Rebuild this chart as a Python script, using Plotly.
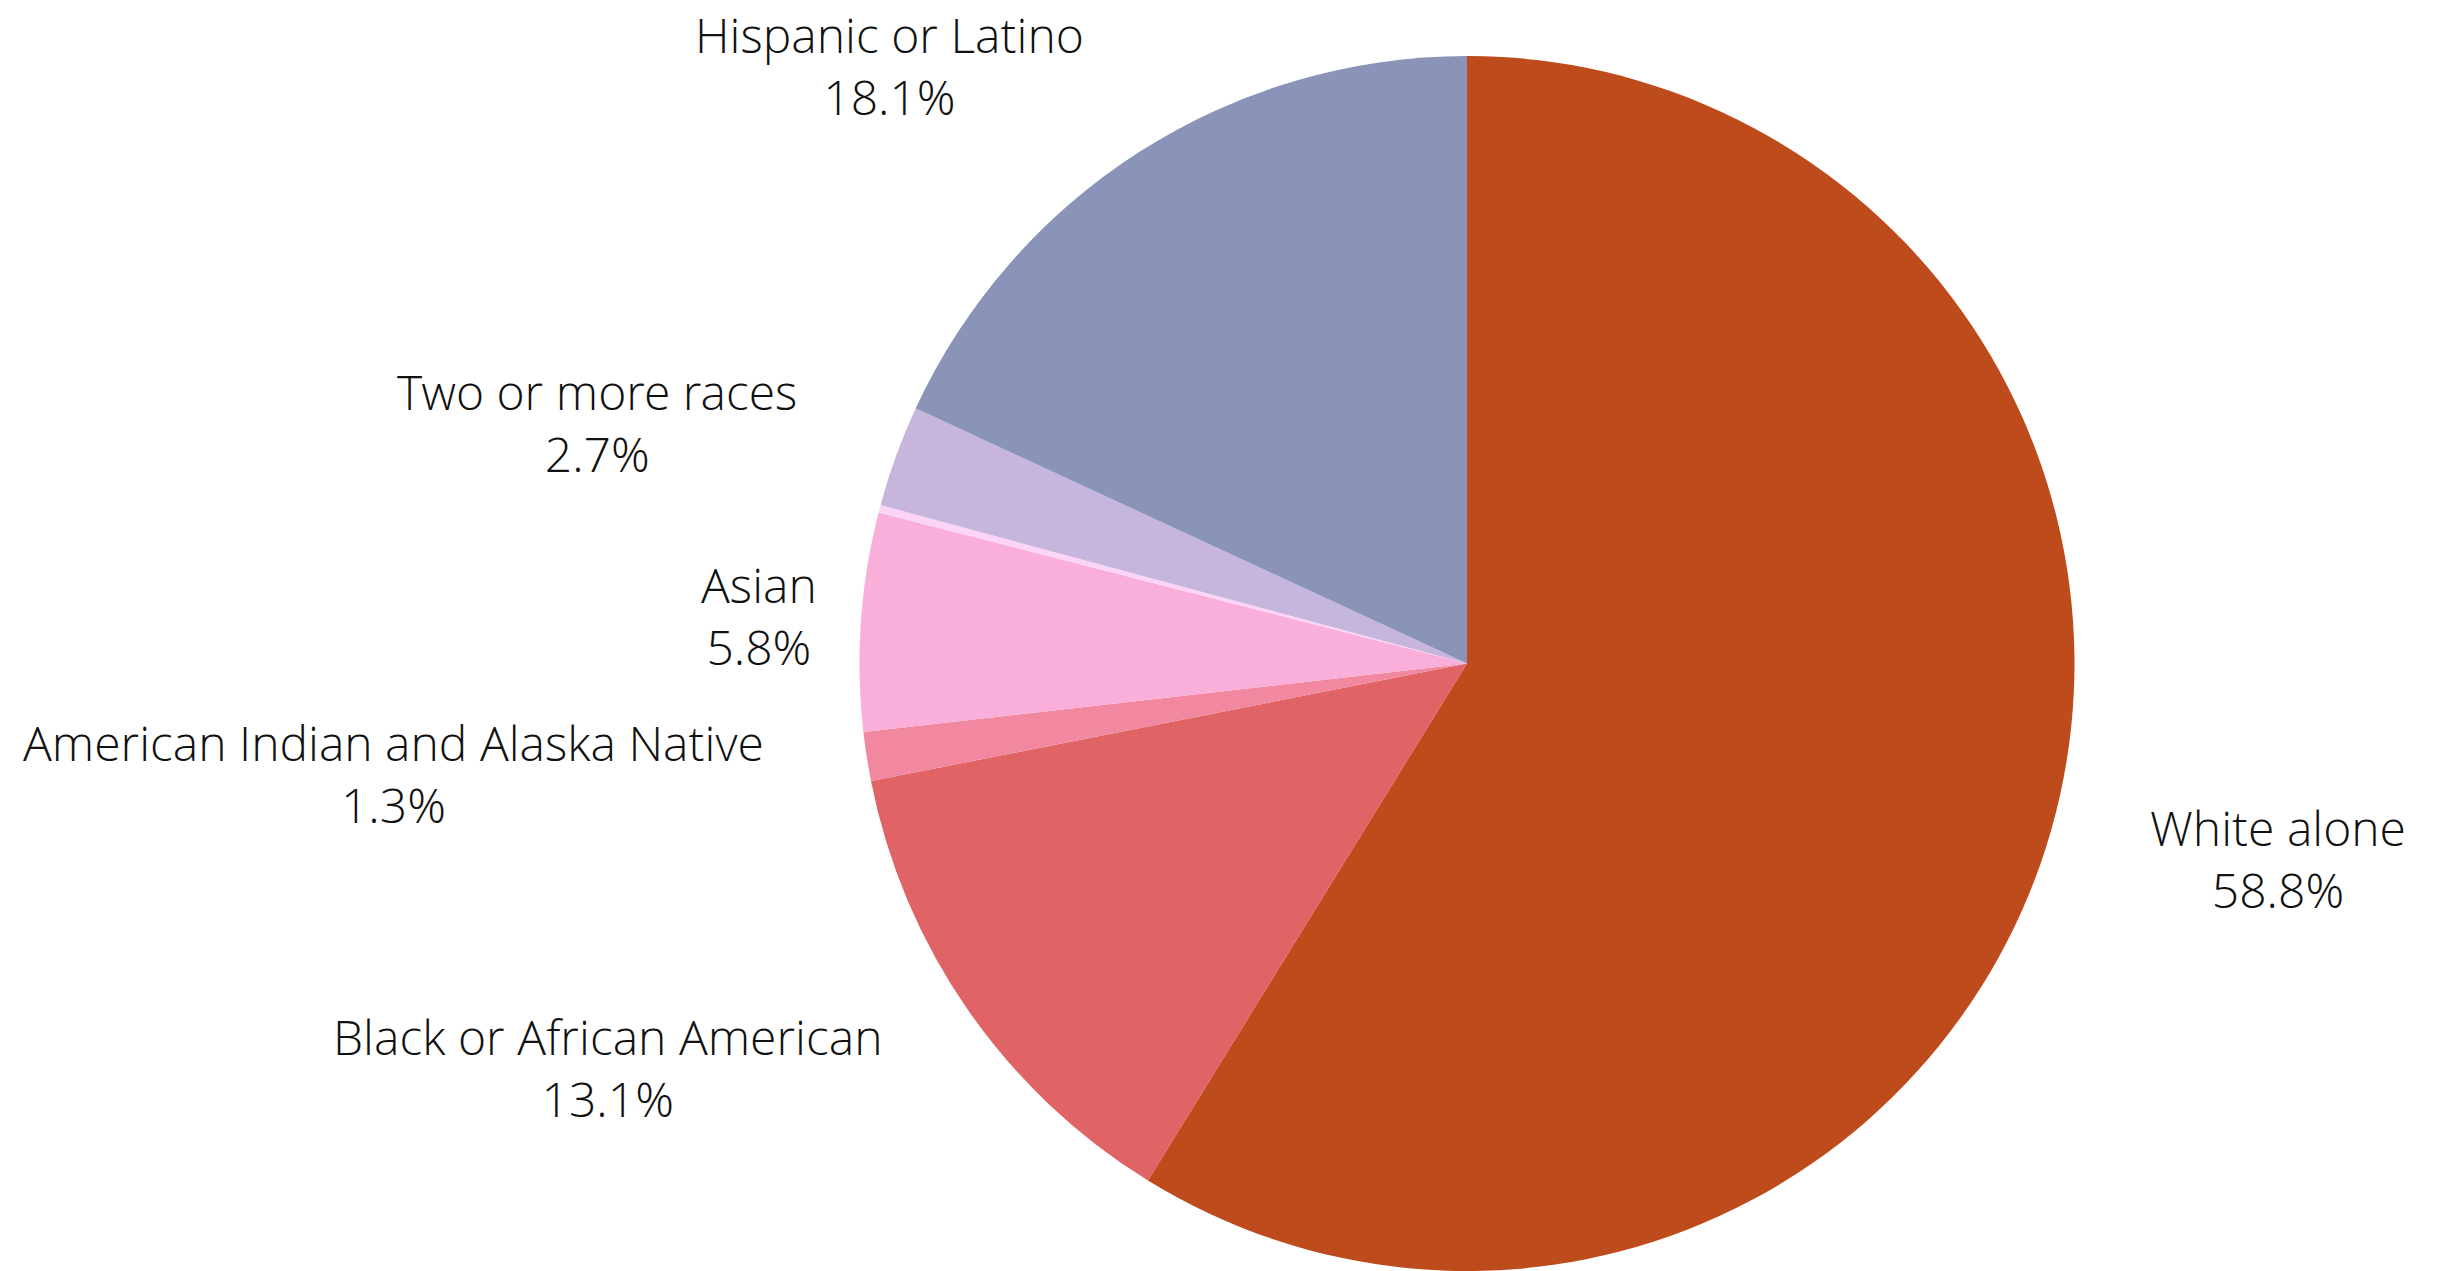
import plotly.graph_objects as go

# Data
categories = [
    "White alone",
    "Black or African American",
    "American Indian and Alaska Native",
    "Asian",
    "Native Hawaiian and Other Pacific Islander",
    "Two or more races",
    "Hispanic or Latino",
]
shares = [58.8, 13.1, 1.3, 5.8, 0.2, 2.7, 18.1]
colors = ["#BD4B1C", "#E06366", "#F2889F", "#F9AFD9", "#FCD5F6", "#C6B5DC", "#8A93B8"]

# Label placement (pixel centres in a 2443x1271 canvas); None = label hidden
W, H = 2443, 1271
label_pos = [
    (2278, 858),
    (608, 1067),
    (393, 773),
    (759, 615),
    None,
    (597, 423),
    (889, 66),
]

fig = go.Figure(
    go.Pie(
        labels=categories,
        values=shares,
        sort=False,
        direction="clockwise",
        rotation=0,
        marker=dict(colors=colors, line=dict(width=0)),
        textinfo="none",
        hoverinfo="label+percent",
        showlegend=False,
        domain=dict(x=[(1467 - 608) / W, (1467 + 608) / W], y=[0, 1 - 56 / H]),
    )
)

font = dict(family="Open Sans Light, Open Sans", size=48, color="#111111", weight=300)
for cat, val, pos in zip(categories, shares, label_pos):
    if pos is None:
        continue
    px, py = pos
    fig.add_annotation(
        x=px / W,
        y=1 - py / H,
        xref="paper",
        yref="paper",
        xanchor="center",
        yanchor="middle",
        text=f"{cat}<br>{val:.1f}%",
        showarrow=False,
        align="center",
        font=font,
    )

fig.update_layout(
    width=W,
    height=H,
    margin=dict(l=0, r=0, t=0, b=0),
    paper_bgcolor="white",
    plot_bgcolor="white",
)

fig.write_html(
    "out.html",
    config={"displayModeBar": False},
    post_script="document.body.style.margin='0';document.body.style.overflow='hidden';",
)
